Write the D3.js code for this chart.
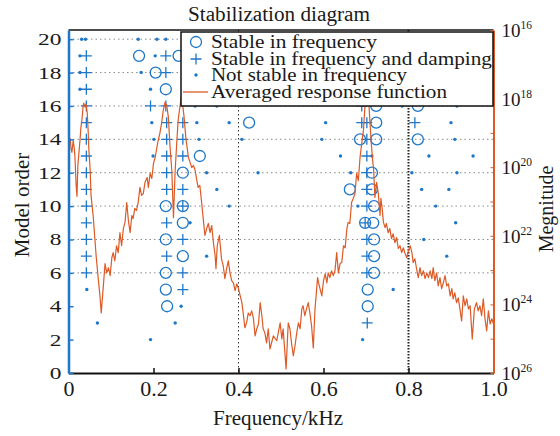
<!DOCTYPE html>
<html>
<head>
<meta charset="utf-8">
<script src="https://cdn.jsdelivr.net/npm/d3@7"></script>
<style>
  html, body { margin: 0; padding: 0; background: #fff; }
  text { font-family: "Liberation Serif", "Times New Roman", serif; fill: #1a1a1a; }
</style>
</head>
<body>
<div id="root"></div>
<script>
// stable in frequency (circles): [frequency kHz, model order]
let stableFreq = [
  [0.166, 19], [0.259, 19], [0.205, 18], [0.229, 17], [0.724, 16], [0.822, 16],
  [0.425, 15], [0.724, 15], [0.686, 14], [0.724, 14], [0.822, 14], [0.309, 13],
  [0.269, 12], [0.714, 12], [0.662, 11], [0.714, 11], [0.229, 10], [0.269, 10],
  [0.719, 10], [0.269, 9], [0.698, 9], [0.717, 9], [0.229, 8], [0.719, 8],
  [0.269, 7], [0.719, 7], [0.229, 6], [0.719, 6], [0.229, 5], [0.704, 5],
  [0.232, 4], [0.704, 4]
];
// stable in frequency and damping (plus signs)
let stableFreqDamp = [
  [0.042, 19], [0.229, 19], [0.042, 18], [0.229, 18], [0.042, 17],
  [0.042, 16], [0.193, 16], [0.229, 16], [0.690, 16],
  [0.042, 15], [0.231, 15], [0.269, 15], [0.690, 15], [0.702, 15], [0.815, 15],
  [0.042, 14], [0.231, 14], [0.269, 14], [0.702, 14],
  [0.042, 13], [0.231, 13], [0.269, 13], [0.702, 13],
  [0.042, 12], [0.231, 12], [0.702, 12],
  [0.042, 11], [0.231, 11], [0.269, 11], [0.702, 11],
  [0.042, 10], [0.269, 10], [0.702, 10],
  [0.042, 9], [0.231, 9], [0.698, 9],
  [0.042, 8], [0.269, 8], [0.702, 8],
  [0.042, 7], [0.231, 7], [0.702, 7],
  [0.042, 6], [0.269, 6], [0.702, 6],
  [0.269, 5], [0.703, 3]
];
// not stable in frequency (dots)
let notStable = [
  [0.031, 20], [0.040, 20], [0.164, 20], [0.208, 20], [0.229, 20],
  [0.027, 19], [0.204, 19], [0.027, 18], [0.171, 18], [0.027, 17], [0.193, 17],
  [0.298, 16], [0.349, 16], [0.785, 16], [0.914, 16],
  [0.196, 15], [0.302, 15], [0.378, 15], [0.605, 15], [0.900, 15],
  [0.201, 14], [0.307, 14], [0.408, 14], [0.596, 14], [0.909, 14],
  [0.199, 13], [0.640, 13], [0.714, 13], [0.848, 13], [0.952, 13],
  [0.325, 12], [0.446, 12], [0.664, 12], [0.808, 12], [0.914, 12],
  [0.349, 11], [0.831, 11], [0.895, 11],
  [0.378, 10], [0.681, 10], [0.864, 10],
  [0.286, 9], [0.911, 9], [0.836, 8], [0.325, 7], [0.890, 7],
  [0.043, 5], [0.764, 5], [0.265, 4], [0.068, 3], [0.251, 3], [0.193, 2], [0.692, 2]
];

// averaged response function: frequency (kHz) and log10 of magnitude
let respFreq = [
  0.000, 0.001, 0.004, 0.006, 0.008, 0.011, 0.013, 0.015, 0.018, 0.020, 0.022, 0.025, 0.027, 0.029,
  0.032, 0.034, 0.036, 0.039, 0.041, 0.044, 0.046, 0.048, 0.051, 0.053, 0.058, 0.065, 0.070, 0.074,
  0.077, 0.082, 0.086, 0.090, 0.094, 0.098, 0.102, 0.105, 0.109, 0.113, 0.117, 0.121, 0.125, 0.129,
  0.133, 0.137, 0.141, 0.145, 0.149, 0.152, 0.156, 0.160, 0.164, 0.168, 0.172, 0.176, 0.180, 0.185,
  0.188, 0.192, 0.196, 0.200, 0.204, 0.208, 0.211, 0.215, 0.219, 0.223, 0.227, 0.231, 0.235, 0.239,
  0.243, 0.247, 0.251, 0.255, 0.258, 0.262, 0.266, 0.272, 0.276, 0.282, 0.286, 0.290, 0.294, 0.298,
  0.302, 0.305, 0.309, 0.313, 0.317, 0.321, 0.325, 0.329, 0.333, 0.337, 0.341, 0.345, 0.347, 0.350,
  0.355, 0.360, 0.364, 0.368, 0.372, 0.376, 0.380, 0.384, 0.388, 0.392, 0.396, 0.400, 0.404, 0.408,
  0.411, 0.415, 0.419, 0.423, 0.427, 0.431, 0.435, 0.439, 0.443, 0.447, 0.451, 0.455, 0.458, 0.462,
  0.466, 0.470, 0.474, 0.482, 0.490, 0.498, 0.502, 0.505, 0.512, 0.517, 0.521, 0.525, 0.529, 0.533,
  0.537, 0.541, 0.545, 0.549, 0.552, 0.556, 0.560, 0.564, 0.568, 0.572, 0.576, 0.580, 0.584, 0.586,
  0.589, 0.596, 0.600, 0.604, 0.608, 0.611, 0.615, 0.619, 0.623, 0.627, 0.631, 0.635, 0.639, 0.643,
  0.647, 0.651, 0.655, 0.658, 0.662, 0.666, 0.670, 0.674, 0.678, 0.682, 0.686, 0.690, 0.694, 0.698,
  0.702, 0.705, 0.707, 0.709, 0.712, 0.715, 0.718, 0.721, 0.725, 0.729, 0.733, 0.735, 0.738, 0.741,
  0.745, 0.748, 0.752, 0.756, 0.760, 0.764, 0.768, 0.772, 0.776, 0.780, 0.784, 0.788, 0.792, 0.796,
  0.800, 0.804, 0.808, 0.811, 0.815, 0.819, 0.823, 0.827, 0.831, 0.835, 0.839, 0.843, 0.847, 0.851,
  0.855, 0.858, 0.862, 0.866, 0.870, 0.874, 0.878, 0.882, 0.886, 0.890, 0.894, 0.898, 0.902, 0.905,
  0.909, 0.913, 0.917, 0.921, 0.925, 0.929, 0.933, 0.937, 0.941, 0.945, 0.950, 0.955, 0.960, 0.964,
  0.968, 0.972, 0.976, 0.980, 0.984, 0.988, 0.992, 0.996, 1.000
];
let respLog = [
  19.80, 19.22, 19.16, 19.45, 19.57, 19.22, 19.39, 19.65, 20.53, 20.85, 19.95, 19.51, 19.22, 18.87,
  18.57, 18.28, 18.13, 18.25, 18.16, 18.40, 18.87, 19.51, 20.09, 20.82, 21.41, 22.58, 23.25, 23.75,
  24.25, 23.46, 22.81, 23.08, 22.93, 23.16, 22.64, 22.49, 22.73, 22.29, 22.49, 21.91, 22.29, 21.79,
  21.61, 21.03, 21.56, 21.91, 21.41, 21.50, 21.20, 21.26, 21.03, 20.59, 20.82, 20.77, 20.44, 20.30,
  20.59, 20.18, 20.33, 19.89, 19.71, 19.42, 19.22, 19.01, 18.72, 18.34, 18.11, 18.19, 18.54, 19.42,
  20.09, 21.47, 20.09, 19.22, 18.63, 18.25, 17.90, 18.54, 19.13, 19.71, 19.86, 20.01, 19.95, 20.09,
  20.39, 20.59, 20.53, 21.00, 21.50, 21.99, 21.79, 21.64, 21.91, 21.70, 22.20, 22.58, 22.96, 22.29,
  21.99, 22.67, 22.87, 23.25, 22.96, 22.73, 23.08, 23.31, 23.37, 23.60, 23.40, 23.54, 23.75, 23.95,
  24.25, 24.68, 24.54, 24.25, 24.33, 24.19, 24.39, 24.92, 24.71, 24.57, 23.95, 24.33, 24.71, 24.83,
  25.12, 24.71, 25.30, 24.92, 25.06, 24.54, 25.01, 24.71, 25.88, 24.54, 24.71, 25.15, 25.50, 25.20,
  24.83, 24.54, 24.71, 24.13, 24.04, 24.33, 24.13, 23.95, 24.25, 24.63, 25.27, 24.13, 23.54, 23.22,
  23.40, 23.75, 23.31, 23.11, 23.37, 23.08, 23.22, 23.02, 23.16, 23.02, 22.49, 23.08, 22.81, 22.78,
  22.29, 22.35, 21.79, 21.61, 21.64, 21.03, 20.91, 20.77, 20.18, 20.39, 19.71, 19.30, 18.92, 18.13,
  17.61, 17.81, 18.19, 18.63, 19.22, 19.71, 20.09, 20.88, 20.44, 20.77, 21.41, 20.91, 21.20, 21.61,
  21.76, 21.64, 21.91, 21.79, 22.08, 21.94, 22.20, 22.05, 22.37, 22.29, 22.49, 22.35, 22.52, 22.64,
  22.43, 22.29, 22.49, 22.78, 22.67, 22.96, 23.22, 22.93, 23.16, 23.02, 23.25, 23.08, 23.22, 23.02,
  23.25, 22.93, 23.31, 23.08, 23.46, 23.22, 23.54, 23.37, 23.16, 23.46, 23.40, 23.75, 23.54, 23.84,
  23.66, 23.95, 23.81, 24.13, 24.48, 23.75, 24.04, 23.84, 24.13, 24.04, 25.01, 24.13, 23.95, 24.19,
  24.04, 24.33, 23.84, 24.42, 24.77, 24.19, 24.57, 24.42, 24.57
];

let orderTicks = [0, 2, 4, 6, 8, 10, 12, 14, 16, 18, 20];
let freqTicks = [0, 0.2, 0.4, 0.6, 0.8, 1.0];
let magTicks = [16, 18, 20, 22, 24, 26];
let legendLabels = ["Stable in frequency", "Stable in frequency and damping",
  "Not stable in frequency", "Averaged response function"];

let blue = "#1f77c8";
let orange = "#dd5a26";
let serif = '"Liberation Serif", "Times New Roman", serif';

let width = 560, height = 436;
let plotLeft = 68.5, plotRight = 493.5, plotTop = 30, plotBottom = 373;

let svg = d3.select('#root').append('svg')
    .attr('width', width)
    .attr('height', height);

let x = d3.scaleLinear().domain([0, 1]).range([plotLeft, plotRight]);
let y = d3.scaleLinear().domain([0, 20.55]).range([plotBottom, plotTop]);
let y2 = d3.scaleLog().domain([1e16, 1e26]).range([plotTop, plotBottom]);

// grid
svg.append('g').selectAll('line')
    .data(d3.range(6, 21, 2))
    .enter().append('line')
    .attr('x1', plotLeft).attr('x2', plotRight)
    .attr('y1', d => y(d)).attr('y2', d => y(d))
    .style('stroke', '#8a8a8a')
    .style('stroke-width', 1)
    .style('stroke-dasharray', '1.5,3');

svg.append('line')
    .attr('x1', x(0.4)).attr('x2', x(0.4))
    .attr('y1', plotTop).attr('y2', plotBottom)
    .style('stroke', '#333').style('stroke-width', 1)
    .style('stroke-dasharray', '1.5,2.5');
svg.append('line')
    .attr('x1', x(0.8)).attr('x2', x(0.8))
    .attr('y1', plotTop).attr('y2', plotBottom)
    .style('stroke', '#222').style('stroke-width', 2)
    .style('stroke-dasharray', '1.5,1.5');

// markers
let marks = svg.append('g');
marks.selectAll('.dot')
    .data(notStable)
    .enter().append('circle')
    .attr('class', 'dot')
    .attr('cx', d => x(d[0])).attr('cy', d => y(d[1]))
    .attr('r', 1.7)
    .style('fill', blue);

marks.selectAll('.ring')
    .data(stableFreq)
    .enter().append('circle')
    .attr('class', 'ring')
    .attr('cx', d => x(d[0])).attr('cy', d => y(d[1]))
    .attr('r', 5.5)
    .style('fill', 'none')
    .style('stroke', blue)
    .style('stroke-width', 1.3);

marks.selectAll('.plus')
    .data(stableFreqDamp)
    .enter().append('path')
    .attr('class', 'plus')
    .attr('d', 'M-5.5,0H5.5M0,-5.5V5.5')
    .attr('transform', d => 'translate(' + x(d[0]) + ',' + y(d[1]) + ')')
    .style('fill', 'none')
    .style('stroke', blue)
    .style('stroke-width', 1.3);

// response curve
let resp = respFreq.map((f, i) => [f, Math.pow(10, respLog[i])]);
svg.append('path')
    .datum(resp)
    .attr('d', d3.line().x(d => x(d[0])).y(d => y2(d[1])))
    .style('fill', 'none')
    .style('stroke', orange)
    .style('stroke-width', 1.2)
    .style('stroke-linejoin', 'round');

// frame and axes
svg.append('line')
    .attr('x1', plotLeft).attr('x2', plotRight).attr('y1', plotTop).attr('y2', plotTop)
    .style('stroke', '#111').style('stroke-width', 1.5);

let xAxis = svg.append('g')
    .attr('transform', 'translate(0,' + plotBottom + ')')
    .call(d3.axisBottom(x).tickValues(freqTicks).tickSizeInner(-5).tickSizeOuter(0)
        .tickPadding(7).tickFormat(d => d === 0 ? '0' : d3.format('.1f')(d)));
xAxis.select('.domain').style('stroke', '#111').style('stroke-width', 2);
xAxis.selectAll('line').style('stroke', '#111').style('stroke-width', 1.5);
xAxis.selectAll('text').style('font-size', '22px')
    .style('font-family', serif).style('fill', '#1a1a1a');

// y tick labels look stretched sideways in the source, ~11.7px per digit
let yAxis = svg.append('g')
    .attr('transform', 'translate(' + plotLeft + ',0)')
    .call(d3.axisLeft(y).tickValues(orderTicks).tickSizeInner(-5).tickSizeOuter(0).tickPadding(7));
yAxis.select('.domain').style('stroke', blue).style('stroke-width', 2.5);
yAxis.selectAll('line').style('stroke', blue).style('stroke-width', 1.5);
yAxis.selectAll('text').style('font-size', '17px')
    .style('font-family', serif).style('fill', '#1a1a1a')
    .attr('textLength', d => String(d).length * 11.7)
    .attr('lengthAdjust', 'spacingAndGlyphs');

let rAxis = svg.append('g')
    .attr('transform', 'translate(' + plotRight + ',0)')
    .call(d3.axisRight(y2).ticks(10).tickSizeInner(-3).tickSizeOuter(0).tickFormat(''));
rAxis.select('.domain').style('stroke', orange).style('stroke-width', 2);
rAxis.selectAll('line').style('stroke', orange).style('stroke-width', 1);

let rLabels = svg.append('g').selectAll('text')
    .data(magTicks)
    .enter().append('text')
    .attr('x', plotRight + 8)
    .attr('y', d => y2(Math.pow(10, d)) + 7)
    .style('font-size', '19px');
rLabels.append('tspan').text('10');
rLabels.append('tspan').attr('dy', -8).style('font-size', '11.5px').text(d => d);

// titles
svg.append('text')
    .attr('x', 279).attr('y', 21)
    .attr('text-anchor', 'middle')
    .attr('textLength', 182).attr('lengthAdjust', 'spacingAndGlyphs')
    .style('font-size', '20px')
    .text('Stabilization diagram');

svg.append('text')
    .attr('transform', 'translate(29,205) rotate(-90)')
    .attr('text-anchor', 'middle')
    .style('font-size', '21px')
    .text('Model order');

svg.append('text')
    .attr('transform', 'translate(553,209) rotate(-90)')
    .attr('text-anchor', 'middle')
    .style('font-size', '20px')
    .text('Megnitude');

svg.append('text')
    .attr('x', 278).attr('y', 425)
    .attr('text-anchor', 'middle')
    .attr('textLength', 130).attr('lengthAdjust', 'spacingAndGlyphs')
    .style('font-size', '21px')
    .text('Frequency/kHz');

// legend
let legend = svg.append('g').attr('transform', 'translate(181,32)');
legend.append('rect')
    .attr('width', 312).attr('height', 74)
    .style('fill', '#fff')
    .style('stroke', '#111').style('stroke-width', 1.5);

let rowY = [10, 27, 43, 60];
let labelWidths = [166, 281, 196, 236];
legend.append('circle').attr('cx', 15).attr('cy', rowY[0]).attr('r', 5.5)
    .style('fill', 'none').style('stroke', blue).style('stroke-width', 1.3);
legend.append('path').attr('d', 'M9.5,' + rowY[1] + 'H20.5M15,' + (rowY[1] - 5.5) + 'V' + (rowY[1] + 5.5))
    .style('stroke', blue).style('stroke-width', 1.3);
legend.append('circle').attr('cx', 15).attr('cy', rowY[2]).attr('r', 1.7).style('fill', blue);
legend.append('line').attr('x1', 2).attr('x2', 27).attr('y1', rowY[3]).attr('y2', rowY[3])
    .style('stroke', orange).style('stroke-width', 1.3);

legend.selectAll('.lab')
    .data(legendLabels)
    .enter().append('text')
    .attr('class', 'lab')
    .attr('x', 30)
    .attr('y', (d, i) => rowY[i] + 6)
    .attr('textLength', (d, i) => labelWidths[i])
    .attr('lengthAdjust', 'spacingAndGlyphs')
    .style('font-size', '18px')
    .text(d => d);
</script>
</body>
</html>
